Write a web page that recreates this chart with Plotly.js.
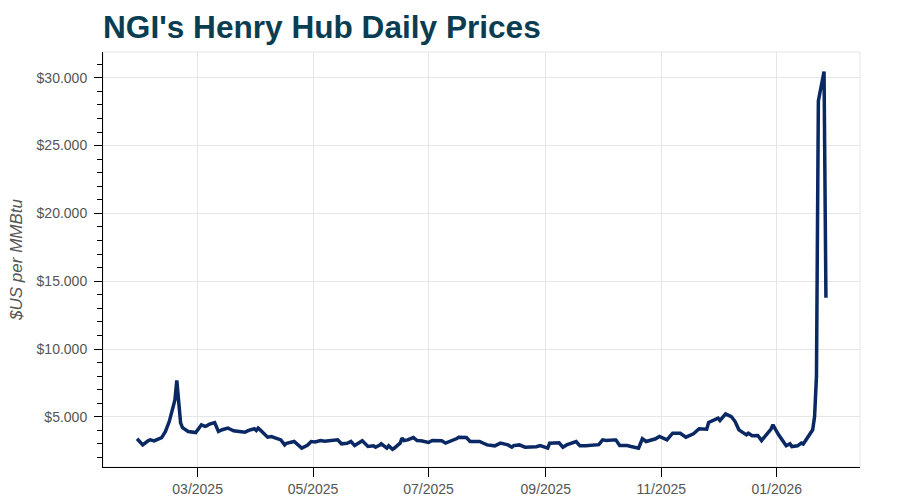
<!DOCTYPE html>
<html><head><meta charset="utf-8">
<script src="https://cdn.plot.ly/plotly-3.0.1.min.js"></script>
<style>html,body{margin:0;padding:0;background:#fff}#chart{width:900px;height:502px}</style>
</head><body><div id="chart"></div>
<script>
const dates = [
"2025-01-28","2025-01-30","2025-01-31","2025-02-03","2025-02-04","2025-02-06","2025-02-07","2025-02-10","2025-02-12","2025-02-14",
"2025-02-17","2025-02-18","2025-02-20","2025-02-21","2025-02-24","2025-02-26","2025-02-28","2025-03-03","2025-03-05","2025-03-06",
"2025-03-07","2025-03-10","2025-03-11","2025-03-12","2025-03-14","2025-03-17","2025-03-18","2025-03-20","2025-03-24","2025-03-26",
"2025-03-28","2025-03-31","2025-04-01","2025-04-02","2025-04-03","2025-04-04","2025-04-07","2025-04-09","2025-04-11","2025-04-14",
"2025-04-16","2025-04-17","2025-04-21","2025-04-23","2025-04-25","2025-04-28","2025-04-30","2025-05-02","2025-05-05","2025-05-07",
"2025-05-09","2025-05-12","2025-05-14","2025-05-16","2025-05-19","2025-05-21","2025-05-23","2025-05-27","2025-05-29","2025-05-30",
"2025-06-02","2025-06-03","2025-06-05","2025-06-06","2025-06-09","2025-06-10","2025-06-12","2025-06-13","2025-06-16","2025-06-17",
"2025-06-18","2025-06-20","2025-06-23","2025-06-25","2025-06-27","2025-06-30","2025-07-01","2025-07-03","2025-07-07","2025-07-08",
"2025-07-10","2025-07-14","2025-07-16","2025-07-17","2025-07-21","2025-07-23","2025-07-25","2025-07-28","2025-07-30","2025-08-01",
"2025-08-05","2025-08-07","2025-08-08","2025-08-12","2025-08-14","2025-08-15","2025-08-18","2025-08-21","2025-08-25","2025-08-27",
"2025-08-29","2025-09-02","2025-09-03","2025-09-05","2025-09-08","2025-09-10","2025-09-12","2025-09-17","2025-09-19","2025-09-22",
"2025-09-24","2025-09-26","2025-09-29","2025-10-01","2025-10-03","2025-10-07","2025-10-08","2025-10-10","2025-10-14","2025-10-16",
"2025-10-20","2025-10-22","2025-10-24","2025-10-29","2025-10-31","2025-11-04","2025-11-07","2025-11-11","2025-11-14","2025-11-18",
"2025-11-21","2025-11-25","2025-11-26","2025-12-01","2025-12-02","2025-12-05","2025-12-08","2025-12-10","2025-12-12","2025-12-16",
"2025-12-17","2025-12-19","2025-12-22","2025-12-24","2025-12-26","2025-12-29","2025-12-30","2026-01-02","2026-01-06","2026-01-08",
"2026-01-09","2026-01-12","2026-01-14","2026-01-15","2026-01-16","2026-01-20","2026-01-21","2026-01-22","2026-01-23","2026-01-26",
"2026-01-27"
];
const prices = [
3.38,3.05,2.93,3.25,3.30,3.23,3.28,3.47,3.92,4.65,
6.25,7.68,4.56,4.20,3.92,3.90,3.84,4.41,4.29,4.35,
4.45,4.58,4.20,3.92,4.05,4.17,4.10,3.97,3.90,3.87,
4.00,4.12,3.99,4.17,4.05,3.92,3.50,3.55,3.43,3.30,
2.93,3.05,3.18,2.95,2.69,2.90,3.18,3.15,3.25,3.20,
3.23,3.25,3.30,3.01,3.05,3.18,2.88,3.23,2.95,2.81,
2.86,2.76,2.90,3.01,2.69,2.86,2.61,2.70,3.06,3.43,
3.25,3.30,3.47,3.25,3.23,3.15,3.11,3.25,3.20,3.23,
3.06,3.25,3.40,3.50,3.47,3.18,3.18,3.18,3.05,2.93,
2.86,2.95,3.06,2.93,2.76,2.88,2.93,2.76,2.76,2.80,
2.88,2.69,3.06,3.06,3.08,2.76,2.93,3.18,2.86,2.86,
2.88,2.93,2.95,3.30,3.25,3.30,3.30,2.88,2.88,2.81,
2.69,3.38,3.18,3.38,3.55,3.30,3.79,3.79,3.50,3.75,
4.12,4.09,4.58,4.90,4.73,5.22,5.02,4.65,4.04,3.67,
3.79,3.60,3.62,3.25,3.60,4.10,4.41,3.67,2.86,3.01,
2.81,2.86,3.06,2.99,3.20,4.04,5.02,8.00,28.30,30.46,
13.78
];
const yTickVals = [5,10,15,20,25,30];
const yTickText = yTickVals.map(v => "$" + v.toFixed(3));
const xTickFormat = "%m/%Y";

const trace = {
  x: dates, y: prices, type: "scatter", mode: "lines",
  line: {color: "#0a2864", width: 3.5},
  hoverinfo: "x+y", showlegend: false
};
const layout = {
  width: 900, height: 502,
  margin: {l: 103, r: 40, t: 52, b: 35},
  paper_bgcolor: "#fff", plot_bgcolor: "#fff",
  title: {text: "<b>NGI's Henry Hub Daily Prices</b>", x: 0.1145, xanchor: "left", y: 0.947, yanchor: "middle",
    font: {family: "Liberation Sans, Arial, sans-serif", size: 31.6, color: "#0b3d52"}},
  font: {family: "Liberation Sans, Arial, sans-serif", color: "#555"},
  xaxis: {
    type: "date", range: ["2025-01-10", "2026-02-14"],
    dtick: "M2", tick0: "2025-01-01", tickformat: xTickFormat,
    showgrid: true, gridcolor: "#e6e6e6", gridwidth: 1,
    showline: true, linecolor: "#000", linewidth: 1,
    ticks: "outside", ticklen: 9, tickcolor: "#000",
    tickfont: {size: 14, color: "#555"}, zeroline: false
  },
  yaxis: {
    range: [1.3, 31.9], tickmode: "array", tickvals: yTickVals, ticktext: yTickText,
    showgrid: true, gridcolor: "#e6e6e6", gridwidth: 1,
    showline: true, linecolor: "#000", linewidth: 1,
    ticks: "outside", ticklen: 8, tickcolor: "#000", ticklabelstandoff: 4,
    minor: {dtick: 1, tick0: 0, ticks: "outside", ticklen: 5, tickcolor: "#000", showgrid: false},
    tickfont: {size: 14, color: "#555"}, zeroline: false,
    title: {text: "<i>$US per MMBtu</i>", font: {size: 17, color: "#555"}, standoff: 9}
  },
  shapes: [{type: "rect", xref: "paper", yref: "paper", x0: 0, x1: 1, y0: 0, y1: 1,
    line: {color: "#e6e6e6", width: 1}, layer: "below"}]
};
Plotly.newPlot("chart", [trace], layout, {displayModeBar: false, staticPlot: true});
</script></body></html>
